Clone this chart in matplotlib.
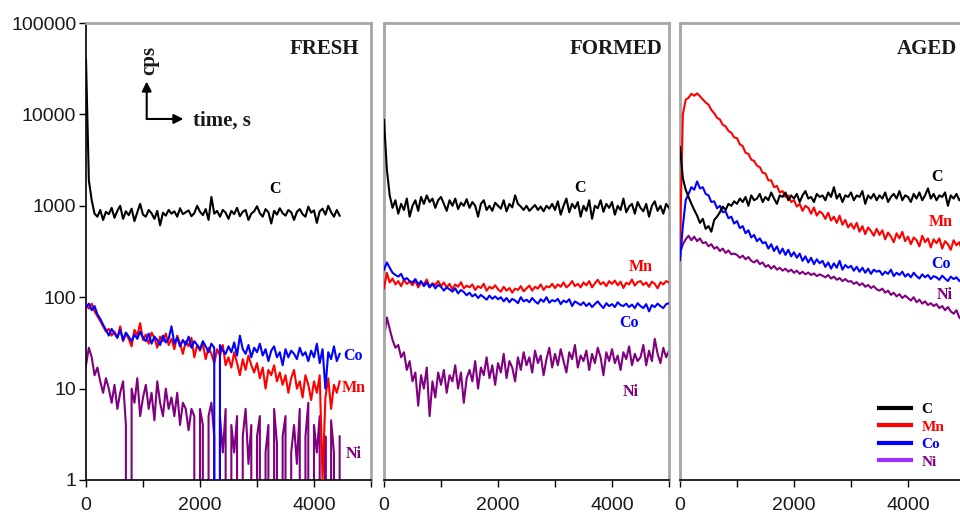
import numpy as np
import matplotlib
matplotlib.use("Agg")
import matplotlib.pyplot as plt
from matplotlib.ticker import FixedLocator, LogLocator, NullLocator, FuncFormatter
from matplotlib.lines import Line2D

# sampling step of the traces, s
STEP = 50

# ---- FRESH ----
fresh_c = [40000, 1900, 1150, 820, 760, 900, 700, 860, 810, 950,
           740, 880, 1000, 720, 870, 790, 930, 680, 850, 1050,
           800, 760, 900, 830, 720, 880, 610, 840, 780, 900,
           820, 870, 760, 940, 810, 850, 890, 770, 830, 1000,
           860, 790, 920, 700, 1250, 820, 880, 760, 900, 840,
           720, 880, 810, 950, 770, 860, 900, 700, 820, 870,
           990, 830, 760, 920, 850, 640, 880, 800, 940, 830,
           780, 900, 850, 700, 860, 920, 810, 760, 980, 840,
           890, 650, 870, 930, 800, 1000, 850, 760, 900, 780]
fresh_mn = [82, 75, 85, 70, 62, 55, 48, 42, 45, 38,
            42, 36, 48, 33, 40, 35, 29, 44, 38, 52,
            34, 39, 31, 41, 36, 28, 37, 33, 40, 30,
            35, 27, 38, 31, 24, 33, 29, 36, 22, 30,
            26, 31, 21, 28, 24, 19, 27, 23, 30, 18,
            22, 17, 25, 19, 14, 21, 16, 23, 18, 15,
            19, 13, 17, 10, 16, 14, 18, 12, 15, 11,
            14, 9, 13, 16, 10, 12, 8, 14, 11, 7.5,
            12, 9, 14, 1, 8, 13, 6, 11, 9, 12]
fresh_co = [78, 85, 72, 80, 65, 58, 50, 44, 38, 45,
            40, 36, 44, 34, 41, 37, 33, 39, 35, 42,
            36, 33, 40, 31, 37, 34, 30, 38, 32, 35,
            48, 31, 36, 29, 34, 30, 37, 28, 33, 30,
            27, 33, 29, 25, 31, 28, 0, 30, 26, 24,
            29, 25, 32, 23, 38, 27, 24, 30, 22, 28,
            25, 31, 23, 27, 20, 26, 29, 22, 25, 18,
            27, 22, 26, 24, 21, 28, 23, 25, 20, 26,
            22, 31, 19, 27, 10, 25, 21, 29, 20, 24]
fresh_ni = [18, 28, 22, 14, 17, 12, 9, 13, 10, 7,
            11, 6, 9, 12, 4, 0, 10, 7, 13, 5,
            8, 11, 6, 9, 4.5, 12, 7, 5, 10, 6,
            8, 5, 9, 4, 7, 6, 3.5, 6, 5, 0,
            6, 4, 0, 5, 7, 3, 0, 5, 2, 6,
            0, 4, 2, 5, 0, 3, 6, 1.5, 4, 0,
            3, 5, 0, 2, 4, 0, 6, 2.5, 0, 3,
            5, 0, 2, 4, 1.5, 6, 0, 3, 7, 0,
            4, 2, 5, 0, 3, 0, 4.5, 2, 0, 3]

# ---- FORMED ----
formed_c = [8700, 2500, 1300, 950, 1150, 820, 1050, 900, 1200, 760,
            1000, 1150, 880, 1250, 1050, 1300, 1100, 1200, 950, 1150,
            1250, 1050, 880, 1150, 1000, 1200, 920, 1080, 1000, 1180,
            950, 1100, 1000, 760, 1050, 1150, 900, 1000, 880, 1080,
            1000, 930, 1150, 870, 1050, 960, 1300, 1050, 980, 900,
            1000, 880, 950, 1020, 900, 980, 870, 1000, 930, 1050,
            900, 1120, 800, 1000, 1200, 850, 1050, 940, 1100, 760,
            1000, 880, 1150, 720, 1000, 940, 1150, 860, 1050, 950,
            1100, 800, 1000, 900, 1200, 850, 980, 1050, 820, 1100,
            950, 870, 1050, 760, 1000, 1120, 880, 1000, 820, 1050,
            950]
formed_mn = [125, 185, 145, 160, 138, 150, 132, 155, 140, 148,
             135, 152, 128, 145, 138, 156, 130, 142, 136, 150,
             132, 145, 128, 140, 122, 138, 130, 146, 125, 134,
             128, 138, 120, 132, 126, 140, 118, 130, 124, 135,
             122, 115, 130, 118, 126, 112, 124, 120, 132, 116,
             125, 134, 118, 130, 124, 138, 120, 132, 128, 140,
             126, 138, 130, 145, 128, 136, 150, 132, 140, 128,
             145, 135, 150, 128, 142, 155, 138, 146, 132, 150,
             140, 152, 135, 148, 126, 144, 138, 156, 134, 146,
             150, 136, 145, 130, 148, 140, 125, 146, 138, 150,
             145]
formed_co = [200, 240, 210, 185, 175, 168, 180, 155, 162, 150,
             145, 158, 138, 150, 132, 145, 128, 140, 125, 136,
             130, 118, 128, 122, 115, 125, 110, 120, 114, 105,
             112, 102, 108, 98, 106, 100, 94, 104, 96, 102,
             95, 100, 90, 98, 88, 96, 92, 86, 100, 90,
             94, 88, 98, 90, 85, 95, 89, 100, 87, 93,
             90, 96, 84, 92, 88, 95, 80, 90, 86, 82,
             88, 80, 86, 78, 84, 90, 82, 76, 86, 80,
             84, 78, 88, 82, 80, 85, 78, 83, 76, 86,
             80, 76, 84, 70, 82, 78, 85, 80, 76, 84,
             86]
formed_ni = [35, 60, 45, 34, 28, 30, 22, 25, 16, 20,
             12, 15, 6.5, 14, 10, 17, 5, 12, 8, 15,
             11, 16, 9, 14, 12, 18, 10, 15, 7, 13,
             16, 12, 20, 10, 17, 14, 22, 13, 18, 11,
             19, 15, 24, 13, 20, 17, 12, 22, 16, 25,
             18, 22, 15, 26, 19, 23, 14, 21, 28, 17,
             24, 18, 27, 20, 15, 25, 21, 30, 17, 23,
             20, 26, 16, 24, 19, 28, 22, 14, 25, 20,
             27, 19, 23, 16, 25, 21, 29, 18, 24, 20,
             22, 30, 18, 26, 20, 35, 24, 19, 28, 22,
             26]

# ---- AGED ----
aged_c = [4400, 2000, 1500, 1250, 1050, 900, 780, 650, 720, 560,
          600, 520, 700, 760, 850, 980, 900, 1050, 1000, 1120,
          1050, 1200, 1100, 1250, 1000, 1300, 1150, 1200, 1350, 1100,
          1250, 1150, 1400, 1200, 1050, 1300, 1250, 1400, 1150, 1300,
          1200, 1350, 1100, 1300, 1450, 1200, 1250, 1100, 1350, 1250,
          1300, 1150, 1400, 1250, 1600, 1200, 1350, 1100, 1300, 1250,
          1400, 1150, 1300, 1250, 1450, 1050, 1300, 1200, 1350, 1150,
          1300, 1200, 1400, 1100, 1250, 1350, 1200, 1450, 1150, 1300,
          1250, 1100, 1350, 1200, 1400, 1150, 1300, 1550, 1200, 1350,
          1150, 1300, 1250, 1400, 1000, 1300, 1200, 1350, 1150, 1250,
          1300]
aged_mn = [390, 10000, 14500, 15200, 16800, 16000, 17000, 15800, 14600, 13500,
           12800, 11200, 10300, 9200, 8800, 7700, 7400, 6600, 6300, 5600,
           5500, 4700, 4500, 3800, 3700, 3200, 3100, 2750, 2650, 2300,
           2250, 1900, 1900, 1600, 1650, 1400, 1450, 1250, 1300, 1100,
           1150, 980, 1050, 880, 1000, 950, 820, 960, 780, 870,
           820, 720, 840, 690, 760, 650, 780, 620, 700, 580,
           640, 560, 650, 520, 600, 490, 580, 530, 470, 560,
           480, 540, 430, 510, 460, 400, 500, 440, 520, 410,
           460, 380, 450, 420, 360, 470, 400, 440, 350, 430,
           390, 440, 340, 410, 380, 330, 420, 370, 400, 320,
           380]
aged_co = [255, 600, 1150, 1350, 1600, 1500, 1850, 1550, 1600, 1350,
           1300, 1100, 1120, 940, 1000, 850, 870, 730, 760, 640,
           680, 570, 600, 500, 540, 450, 480, 410, 440, 390,
           400, 340, 380, 320, 360, 300, 340, 290, 330, 280,
           310, 270, 300, 250, 280, 240, 270, 230, 260, 235,
           250, 215, 240, 205, 235, 210, 250, 200, 225, 210,
           220, 195, 215, 190, 210, 185, 205, 180, 200, 190,
           195, 175, 190, 180, 200, 170, 185, 175, 190, 168,
           180, 165, 185, 170, 160, 178, 165, 175, 158, 170,
           165, 155, 172, 160, 150, 168, 158, 165, 150, 162,
           160]
aged_ni = [300, 380, 430, 470, 420, 460, 410, 440, 390, 400,
           360, 380, 340, 355, 320, 340, 305, 325, 295, 300,
           290, 270, 285, 260, 275, 250, 240, 255, 230, 240,
           215, 225, 205, 220, 200, 210, 195, 205, 190, 200,
           185, 195, 180, 190, 178, 186, 175, 182, 170, 178,
           172, 165, 175, 160, 168, 155, 162, 150, 158, 148,
           150, 140, 146, 135, 142, 130, 136, 126, 132, 122,
           118, 124, 112, 118, 106, 112, 102, 108, 98, 104,
           98, 92, 100, 88, 94, 85, 90, 82, 86, 80,
           84, 76, 80, 72, 78, 70, 66, 72, 60, 56,
           58]

panels = ["FRESH", "FORMED", "AGED"]
elements = ["Ni", "Mn", "Co", "C"]
colors = {"C": "#000000", "Mn": "#ff0000", "Co": "#0000ff", "Ni": "#800080"}
series = {
    "FRESH": {"C": fresh_c, "Mn": fresh_mn, "Co": fresh_co, "Ni": fresh_ni},
    "FORMED": {"C": formed_c, "Mn": formed_mn, "Co": formed_co, "Ni": formed_ni},
    "AGED": {"C": aged_c, "Mn": aged_mn, "Co": aged_co, "Ni": aged_ni},
}

# label anchors (time, cps) next to the traces
labels = {
    "FRESH": {"C": (3320, 1520), "Co": (4680, 22.7), "Mn": (4700, 10.2), "Ni": (4700, 1.93)},
    "FORMED": {"C": (3430, 1570), "Mn": (4500, 214), "Co": (4290, 52), "Ni": (4320, 9.2)},
    "AGED": {"C": (4510, 2070), "Mn": (4580, 665), "Co": (4580, 230), "Ni": (4650, 106)},
}
title_x = {"FRESH": 0.958, "FORMED": 0.975, "AGED": 0.972}

SERIF = ["Liberation Serif", "DejaVu Serif"]
SANS = ["Liberation Sans", "DejaVu Sans"]
GRAY = "#a6a6a6"

fig = plt.figure(figsize=(9.6, 5.15), dpi=100)
W, H = 960.0, 515.0
lefts = [86, 384, 680]
pw, top, bottom = 285, 23, 480

for i, name in enumerate(panels):
    ax = fig.add_axes([lefts[i] / W, (H - bottom) / H, pw / W, (bottom - top) / H])
    for el in elements:
        vals = np.array(series[name][el], dtype=float)
        t = np.arange(len(vals)) * STEP
        ax.plot(t, vals, color=colors[el], lw=1.5, zorder=elements.index(el) + 2)

    ax.set_yscale("log")
    ax.set_ylim(1, 100000)
    ax.set_xlim(0, 5000)

    ax.xaxis.set_major_locator(FixedLocator([0, 2000, 4000]))
    ax.xaxis.set_minor_locator(FixedLocator([1000, 3000, 5000]))
    ax.tick_params(axis="x", which="both", direction="out", length=5, width=1,
                   color="black", pad=7)
    ax.tick_params(axis="x", which="major", labelsize=14, labelcolor="#1a1a1a")
    for lab in ax.get_xticklabels():
        lab.set_family(SANS)

    ax.yaxis.set_minor_locator(NullLocator())
    if i == 0:
        ax.yaxis.set_major_locator(LogLocator(base=10, numticks=10))
        ax.yaxis.set_major_formatter(FuncFormatter(lambda v, p: f"{v:.0f}"))
        ax.tick_params(axis="y", direction="out", length=5, width=1, pad=2,
                       labelsize=14, labelcolor="#1a1a1a")
        for lab in ax.get_yticklabels():
            lab.set_family(SANS)
        ax.spines["left"].set_color("black")
        ax.spines["left"].set_linewidth(1.2)
    else:
        ax.tick_params(axis="y", which="both", left=False, labelleft=False)
        ax.spines["left"].set_color(GRAY)
        ax.spines["left"].set_linewidth(2)
    ax.spines["bottom"].set_color("black")
    ax.spines["bottom"].set_linewidth(1.2)
    for s in ["top", "right"]:
        ax.spines[s].set_color(GRAY)
        ax.spines[s].set_linewidth(2)

    ax.text(title_x[name], 0.932, name, transform=ax.transAxes, ha="right",
            va="baseline", fontsize=15, fontweight="bold", family=SERIF, color="#1a1a1a")

    for el, (lx, ly) in labels[name].items():
        ax.text(lx, ly, el, ha="center", va="center", fontsize=11.5, fontweight="bold",
                family=SERIF, color=colors[el])

    if name == "FRESH":
        corner = (0.213, 0.790)
        ax.annotate("", xy=(0.213, 0.872), xytext=corner, xycoords="axes fraction",
                    arrowprops=dict(arrowstyle="-|>", lw=1.5, color="black",
                                    mutation_scale=14, shrinkA=0, shrinkB=0))
        ax.annotate("", xy=(0.342, 0.790), xytext=corner, xycoords="axes fraction",
                    arrowprops=dict(arrowstyle="-|>", lw=1.5, color="black",
                                    mutation_scale=14, shrinkA=0, shrinkB=0))
        ax.text(0.222, 0.919, "cps", transform=ax.transAxes, rotation=90, ha="center",
                va="center", fontsize=15, fontweight="bold", family=SERIF, color="#1a1a1a")
        ax.text(0.374, 0.786, "time, s", transform=ax.transAxes, ha="left",
                va="center", fontsize=15, fontweight="bold", family=SERIF, color="#1a1a1a")

    if name == "AGED":
        leg_colors = {"C": "#000000", "Mn": "#ff0000", "Co": "#0000ff", "Ni": "#9b30ff"}
        handles = [Line2D([], [], color=leg_colors[el], lw=3) for el in ["C", "Mn", "Co", "Ni"]]
        leg = ax.legend(handles, ["C", "Mn", "Co", "Ni"], loc="lower left",
                        bbox_to_anchor=(0.698, 0.025), frameon=False, borderpad=0,
                        borderaxespad=0, handlelength=2.1, handletextpad=0.7,
                        labelspacing=0.25, prop={"family": SERIF, "weight": "bold", "size": 11})
        for txt, el in zip(leg.get_texts(), ["C", "Mn", "Co", "Ni"]):
            txt.set_color(colors[el])

fig.savefig("out.png", dpi=100)
